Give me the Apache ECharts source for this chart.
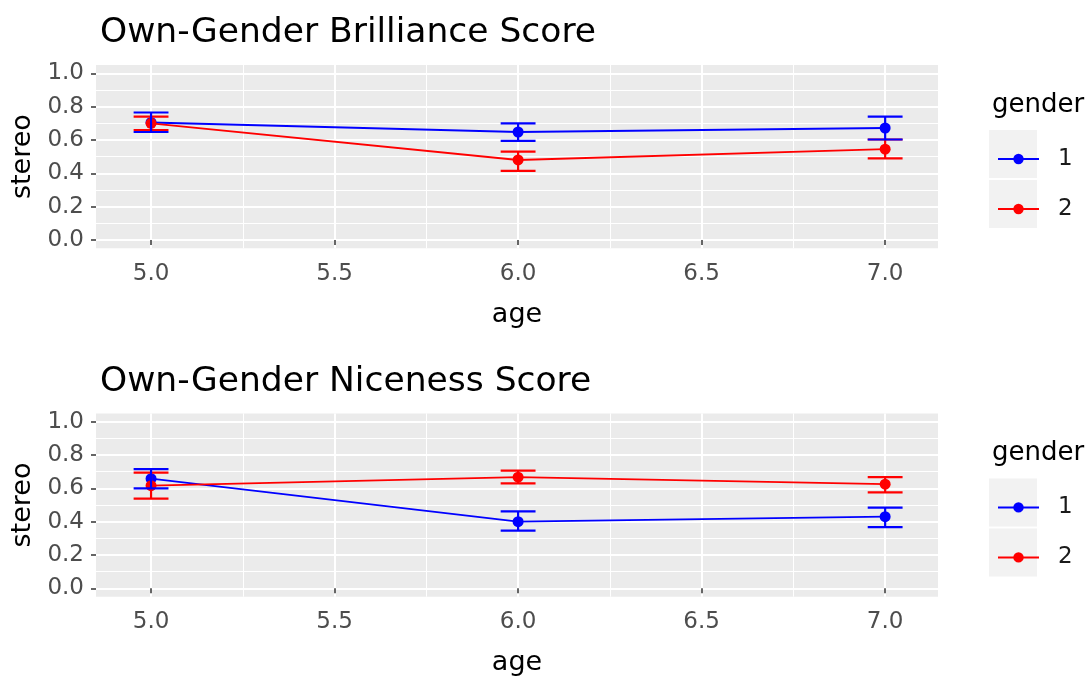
<!DOCTYPE html>
<html>
<head>
<meta charset="utf-8">
<script src="https://cdn.jsdelivr.net/npm/echarts@6/dist/echarts.min.js"></script>
<style>
  html, body { margin: 0; padding: 0; background: #ffffff; }
  #chart { width: 1091px; height: 677px; }
</style>
</head>
<body>
<div id="chart"></div>
<script>
// ---- data -------------------------------------------------------------
const ages = [5, 6, 7];
const genders = ['1', '2'];

// Brilliance score: mean and error-bar bounds per age
const brilMean1 = [0.705, 0.648, 0.672];
const brilLow1  = [0.648, 0.595, 0.603];
const brilHigh1 = [0.765, 0.700, 0.740];
const brilMean2 = [0.700, 0.480, 0.545];
const brilLow2  = [0.660, 0.415, 0.490];
const brilHigh2 = [0.740, 0.530, 0.603];

// Niceness score: mean and error-bar bounds per age
const niceMean1 = [0.658, 0.400, 0.430];
const niceLow1  = [0.600, 0.346, 0.368];
const niceHigh1 = [0.716, 0.462, 0.484];
const niceMean2 = [0.616, 0.667, 0.625];
const niceLow2  = [0.538, 0.630, 0.576];
const niceHigh2 = [0.694, 0.706, 0.668];

// axis breaks
const xMajor = [5.0, 5.5, 6.0, 6.5, 7.0];
const xMinor = [5.25, 5.75, 6.25, 6.75];
const yMajor = [0.0, 0.2, 0.4, 0.6, 0.8, 1.0];
const yMinor = [0.1, 0.3, 0.5, 0.7, 0.9];

const panelTitles = ['Own-Gender Brilliance Score', 'Own-Gender Niceness Score'];
const xName = 'age';
const yName = 'stereo';
const legendTitle = 'gender';

// ---- styling ------------------------------------------------------------
const FONT = 'DejaVu Sans';
const colors = { '1': '#0000FF', '2': '#FF0000' };
const panelBg = '#EBEBEB';
const keyBg = '#F2F2F2';
const capWidth = 0.095;        // error-bar cap width in age units
const panelTops = [65, 413.4];
const panelLeft = 96;
const panelWidth = 842;
const panelHeight = 183.3;
const xRange = [4.85, 7.144];
const yRange = [-0.05, 1.05];

const panels = [
  { mean: [brilMean1, brilMean2], low: [brilLow1, brilLow2], high: [brilHigh1, brilHigh2] },
  { mean: [niceMean1, niceMean2], low: [niceLow1, niceLow2], high: [niceHigh1, niceHigh2] }
];

const chart = echarts.init(document.getElementById('chart'), null, { renderer: 'canvas' });

const grids = [], xAxes = [], yAxes = [], series = [], titles = [], legends = [], graphics = [];

function errorBarRenderer(color) {
  return function (params, api) {
    const x = api.value(0);
    const lo = api.coord([x, api.value(1)]);
    const hi = api.coord([x, api.value(2)]);
    const half = api.size([capWidth, 0])[0] / 2;
    const style = { stroke: color, lineWidth: 2.2 };
    return {
      type: 'group',
      children: [
        { type: 'line', shape: { x1: lo[0], y1: hi[1], x2: lo[0], y2: lo[1] }, style },
        { type: 'line', shape: { x1: lo[0] - half, y1: hi[1], x2: lo[0] + half, y2: hi[1] }, style },
        { type: 'line', shape: { x1: lo[0] - half, y1: lo[1], x2: lo[0] + half, y2: lo[1] }, style }
      ]
    };
  };
}

panels.forEach((panel, p) => {
  const top = panelTops[p];
  grids.push({
    left: panelLeft, top: top, width: panelWidth, height: panelHeight,
    show: true, backgroundColor: panelBg, borderWidth: 0,
    containLabel: false, outerBoundsMode: 'none'
  });

  // major x axis (ticks, labels, major grid lines)
  xAxes.push({
    type: 'value', gridIndex: p, position: 'bottom',
    min: xRange[0], max: xRange[1],
    name: xName, nameLocation: 'middle', nameGap: 53,
    nameTextStyle: { fontFamily: FONT, fontSize: 27, color: '#000000' },
    axisLine: { show: false },
    axisTick: { show: true, length: 5, customValues: xMajor, lineStyle: { color: '#333333', width: 1.5 } },
    axisLabel: {
      customValues: xMajor, margin: 14, fontFamily: FONT, fontSize: 23, color: '#4D4D4D',
      formatter: v => v.toFixed(1)
    },
    splitLine: { show: true, lineStyle: { color: '#FFFFFF', width: 2 } }
  });
  // minor x grid lines
  xAxes.push({
    type: 'value', gridIndex: p, position: 'bottom',
    min: xRange[0], max: xRange[1],
    axisLine: { show: false },
    axisTick: { show: false, customValues: xMinor },
    axisLabel: { show: false, customValues: xMinor },
    splitLine: { show: true, lineStyle: { color: '#FFFFFF', width: 1 } }
  });

  // major y axis
  yAxes.push({
    type: 'value', gridIndex: p, position: 'left',
    min: yRange[0], max: yRange[1],
    name: yName, nameLocation: 'middle', nameGap: 59, nameRotate: 90,
    nameTextStyle: { fontFamily: FONT, fontSize: 27, color: '#000000' },
    axisLine: { show: false },
    axisTick: { show: true, length: 5, customValues: yMajor, lineStyle: { color: '#333333', width: 1.5 } },
    axisLabel: {
      customValues: yMajor, margin: 12, fontFamily: FONT, fontSize: 23, color: '#4D4D4D',
      formatter: v => v.toFixed(1)
    },
    splitLine: { show: true, lineStyle: { color: '#FFFFFF', width: 2 } }
  });
  // minor y grid lines
  yAxes.push({
    type: 'value', gridIndex: p, position: 'left',
    min: yRange[0], max: yRange[1],
    axisLine: { show: false },
    axisTick: { show: false, customValues: yMinor },
    axisLabel: { show: false, customValues: yMinor },
    splitLine: { show: true, lineStyle: { color: '#FFFFFF', width: 1 } }
  });

  const xi = p * 2, yi = p * 2;

  // connecting lines and mean points
  genders.forEach((g, gi) => {
    series.push({
      type: 'line', name: g, xAxisIndex: xi, yAxisIndex: yi,
      data: ages.map((a, i) => [a, panel.mean[gi][i]]),
      symbol: 'circle', symbolSize: 11, showSymbol: true,
      color: colors[g],
      itemStyle: { color: colors[g] },
      lineStyle: { color: colors[g], width: 1.8 },
      z: 3 + gi * 0.1,
      silent: true
    });
  });
  // error bars (drawn over the lines)
  genders.slice().reverse().forEach((g) => {
    const gi = genders.indexOf(g);
    series.push({
      type: 'custom', name: g, xAxisIndex: xi, yAxisIndex: yi,
      data: ages.map((a, i) => [a, panel.low[gi][i], panel.high[gi][i]]),
      encode: { x: 0, y: [1, 2] },
      renderItem: errorBarRenderer(colors[g]),
      itemStyle: { color: colors[g] },
      z: 5 + (gi === 0 ? 0.2 : 0.1),
      silent: true
    });
  });

  titles.push({
    text: panelTitles[p], left: 95, top: top - 54,
    textStyle: { fontFamily: FONT, fontSize: 34.5, fontWeight: 'normal', color: '#000000' }
  });
  titles.push({
    text: legendTitle, left: 987, top: top + 22,
    textStyle: { fontFamily: FONT, fontSize: 26, fontWeight: 'normal', color: '#000000' }
  });

  // legend key backgrounds
  [0, 1].forEach(k => {
    graphics.push({
      type: 'rect', z: 0, silent: true,
      shape: { x: 989, y: top + 65 + k * 50, width: 48, height: 48 },
      style: { fill: keyBg }
    });
  });

  legends.push({
    data: genders, orient: 'vertical', left: 992, top: top + 76,
    itemWidth: 41, itemHeight: 13, itemGap: 24, selectedMode: false,
    textStyle: { fontFamily: FONT, fontSize: 23, lineHeight: 26, color: '#1A1A1A', padding: [0, 0, 0, 14] },
    z: 4
  });
});

chart.setOption({
  animation: false,
  backgroundColor: '#FFFFFF',
  title: titles,
  legend: legends,
  grid: grids,
  xAxis: xAxes,
  yAxis: yAxes,
  series: series,
  graphic: { elements: graphics }
});
</script>
</body>
</html>
